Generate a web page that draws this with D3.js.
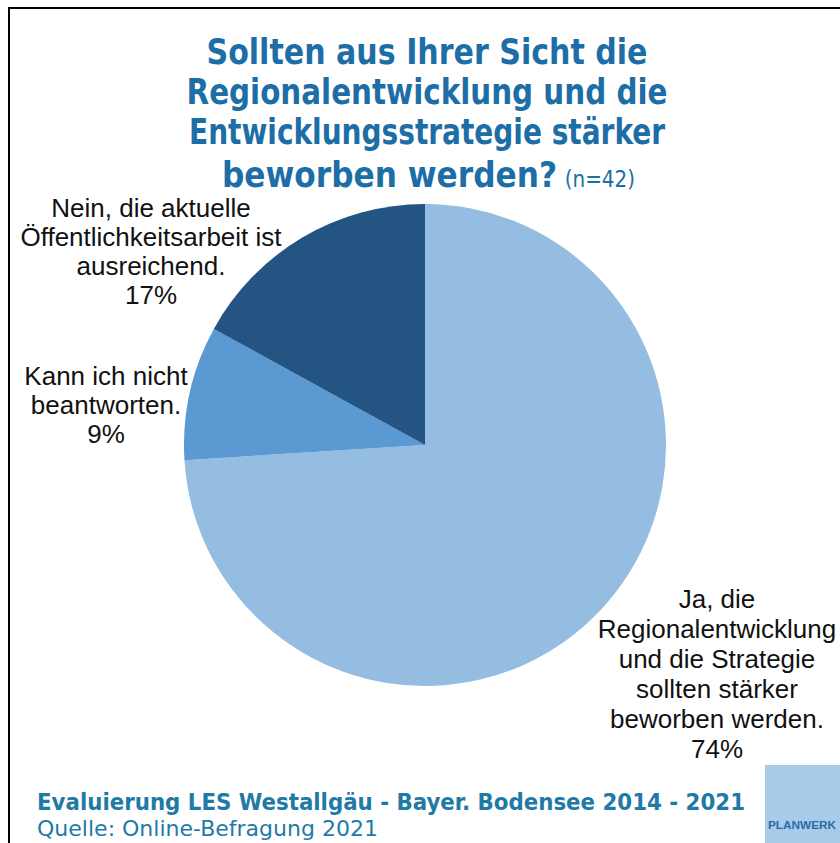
<!DOCTYPE html>
<html>
<head>
<meta charset="utf-8">
<script src="https://cdn.jsdelivr.net/npm/d3@7"></script>
<style>
  html, body { margin: 0; padding: 0; background: #fff; }
  svg { display: block; }
</style>
</head>
<body>
<svg id="chart" width="840" height="843"></svg>
<script>
// ---- Data ----
const categories = [
  "Ja, die Regionalentwicklung und die Strategie sollten stärker beworben werden.",
  "Kann ich nicht beantworten.",
  "Nein, die aktuelle Öffentlichkeitsarbeit ist ausreichend."
];
const values = [74, 9, 17];
const labelLines = [
  ["Ja, die", "Regionalentwicklung", "und die Strategie", "sollten stärker", "beworben werden."],
  ["Kann ich nicht", "beantworten."],
  ["Nein, die aktuelle", "Öffentlichkeitsarbeit ist", "ausreichend."]
];
const titleLines = ["Sollten aus Ihrer Sicht die", "Regionalentwicklung und die", "Entwicklungsstrategie stärker", "beworben werden?"];
const titleNote = "(n=42)";
const footerLines = ["Evaluierung LES Westallgäu - Bayer. Bodensee 2014 - 2021", "Quelle: Online-Befragung 2021"];
const logoText = "PLANWERK";

// ---- Layout / style ----
const colors = ["#95bde1", "#5b99d3", "#245482"];
const cx = 425, cy = 445, R = 241;
const labelLayout = [
  { x: 717, y: 608, lh: 30 },
  { x: 106, y: 385, lh: 29 },
  { x: 151, y: 217, lh: 29 }
];
const labelFont = "'Liberation Sans', Arial, sans-serif";
const condFont = "'Liberation Sans Narrow', 'DejaVu Sans Condensed', 'Open Sans', sans-serif";

const svg = d3.select("#chart");

// Frame
svg.append("path")
  .attr("d", "M842,8 L9,8 L9,845")
  .attr("fill", "none").attr("stroke", "#000").attr("stroke-width", 2);

// Pie
const pie = d3.pie().sort(null).value(d => d)(values);
const arc = d3.arc().innerRadius(0).outerRadius(R);
const g = svg.append("g").attr("transform", `translate(${cx},${cy})`);
g.selectAll("path").data(pie).join("path")
  .attr("d", arc)
  .attr("fill", (d, i) => colors[i]);

// Labels
pie.forEach((d, i) => {
  const L = labelLayout[i];
  const t = svg.append("text")
    .attr("text-anchor", "middle")
    .attr("font-family", labelFont)
    .attr("font-size", 26)
    .attr("fill", "#111");
  const lines = labelLines[i].concat([values[i] + "%"]);
  lines.forEach((ln, j) => {
    t.append("tspan").attr("x", L.x).attr("y", L.y + j * L.lh).text(ln);
  });
});

// Title
const titleColor = "#1d6ea7";
const titleWidths = [441, 481, 476];
const titleBase = [64, 104, 144, 187];
titleLines.slice(0, 3).forEach((ln, i) => {
  svg.append("text")
    .attr("x", 427).attr("y", titleBase[i])
    .attr("text-anchor", "middle")
    .attr("font-family", condFont)
    .attr("font-weight", "bold")
    .attr("font-size", 36)
    .attr("fill", titleColor)
    .attr("textLength", titleWidths[i]).attr("lengthAdjust", "spacingAndGlyphs")
    .text(ln);
});
const t4 = svg.append("text")
  .attr("x", 222).attr("y", titleBase[3])
  .attr("font-family", condFont)
  .attr("fill", titleColor)
  .attr("textLength", 413).attr("lengthAdjust", "spacingAndGlyphs");
t4.append("tspan").attr("font-weight", "bold").attr("font-size", 36).text(titleLines[3]);
t4.append("tspan").attr("font-size", 23).attr("dx", 8).text(titleNote);

// Footer
const footColor = "#1f7aa6";
svg.append("text")
  .attr("x", 37).attr("y", 810)
  .attr("font-family", condFont)
  .attr("font-weight", "bold")
  .attr("font-size", 23)
  .attr("fill", footColor)
  .attr("textLength", 708).attr("lengthAdjust", "spacingAndGlyphs")
  .text(footerLines[0]);
svg.append("text")
  .attr("x", 37).attr("y", 836)
  .attr("font-family", condFont)
  .attr("font-size", 22)
  .attr("fill", footColor)
  .attr("textLength", 341).attr("lengthAdjust", "spacingAndGlyphs")
  .text(footerLines[1]);

// Logo
svg.append("rect")
  .attr("x", 765).attr("y", 765).attr("width", 80).attr("height", 85)
  .attr("fill", "#a8cbea");
svg.append("text")
  .attr("x", 802).attr("y", 829)
  .attr("text-anchor", "middle")
  .attr("font-family", "'Liberation Sans', Arial, sans-serif")
  .attr("font-weight", "bold")
  .attr("font-size", 11)
  .attr("fill", "#2a6aa5")
  .attr("textLength", 68).attr("lengthAdjust", "spacingAndGlyphs")
  .text(logoText);
</script>
</body>
</html>
